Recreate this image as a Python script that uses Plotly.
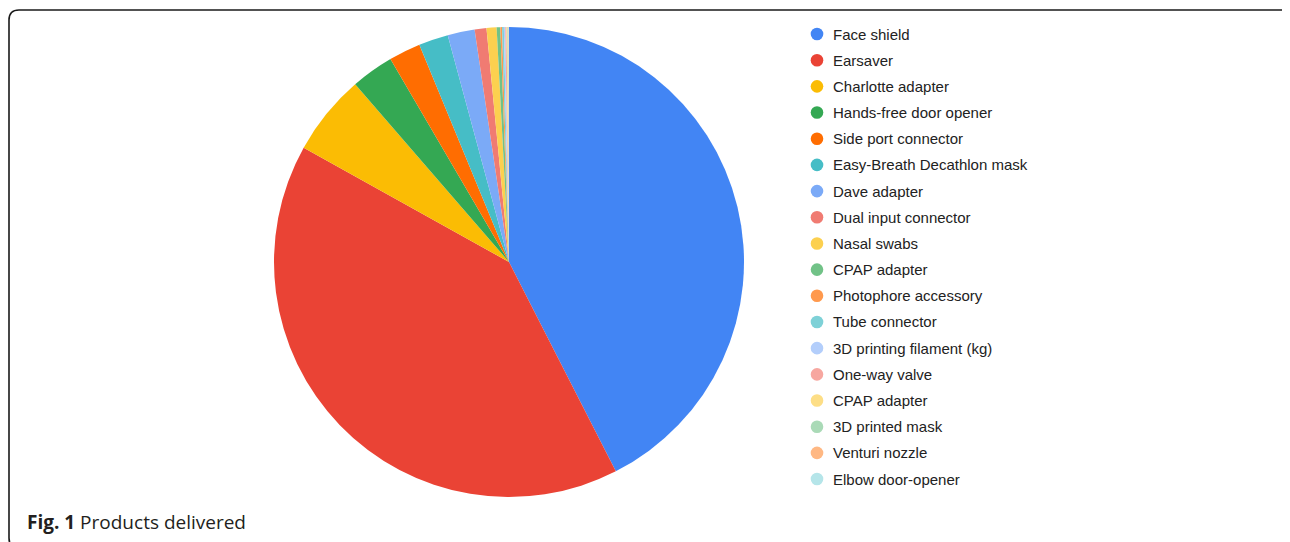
import plotly.graph_objects as go

W, H = 1290, 542
OFF = 8  # page body margin offset

labels = ["Face shield", "Earsaver", "Charlotte adapter", "Hands-free door opener",
          "Side port connector", "Easy-Breath Decathlon mask", "Dave adapter",
          "Dual input connector", "Nasal swabs", "CPAP adapter", "Photophore accessory",
          "Tube connector", "3D printing filament (kg)", "One-way valve", "CPAP adapter ",
          "3D printed mask", "Venturi nozzle", "Elbow door-opener"]
values = [4250, 4060, 556, 294, 219, 203, 186, 81, 69, 25, 12, 12, 10, 8, 6, 5, 4, 2]
colors = ["#4285F4", "#EA4335", "#FBBC04", "#34A853", "#FF6D01", "#46BDC6", "#7BAAF7",
          "#F07B72", "#FCD04F", "#71C287", "#FF994D", "#7ED1D7", "#B3CEFB", "#F7A7A0",
          "#FDDE86", "#AADAB7", "#FFB883", "#B5E5E9"]

def px(x):
    return (x - OFF) / W

def py(y):
    return 1 - (y - OFF) / H

fig = go.Figure()
fig.add_trace(go.Pie(
    labels=labels, values=values, sort=False, direction="clockwise", rotation=0,
    marker=dict(colors=colors, line=dict(color="white", width=0)),
    textinfo="none", hoverinfo="label+value+percent", showlegend=False,
    domain=dict(x=[px(274), px(744)], y=[py(497), py(27)]),
))

shapes = []
annotations = []
row0, step = 34.0, 26.18
for i, (lab, col) in enumerate(zip(labels, colors)):
    yc = row0 + i * step
    r = 6.3
    shapes.append(dict(type="circle", xref="paper", yref="paper",
                       x0=px(817 - r), x1=px(817 + r), y0=py(yc + r), y1=py(yc - r),
                       fillcolor=col, line=dict(width=0)))
    annotations.append(dict(text=lab.strip(), xref="paper", yref="paper",
                            x=px(831), y=py(yc), xanchor="left", yanchor="middle",
                            showarrow=False,
                            font=dict(family="Arial, Liberation Sans, sans-serif", size=15, color="#222222")))

# rounded border frame
x0, y0, x1, y1, rr = 9, 10, 1298, 548, 10
path = (f"M {px(x0)},{py(y1 - rr)} L {px(x0)},{py(y0 + rr)} "
        f"Q {px(x0)},{py(y0)} {px(x0 + rr)},{py(y0)} "
        f"L {px(x1 - rr)},{py(y0)} Q {px(x1)},{py(y0)} {px(x1)},{py(y0 + rr)} "
        f"L {px(x1)},{py(y1 - rr)} Q {px(x1)},{py(y1)} {px(x1 - rr)},{py(y1)} "
        f"L {px(x0 + rr)},{py(y1)} Q {px(x0)},{py(y1)} {px(x0)},{py(y1 - rr)} Z")
shapes.append(dict(type="path", xref="paper", yref="paper", path=path,
                   line=dict(color="#1a1a1a", width=1.6)))

annotations.append(dict(text="<b>Fig. 1</b> Products delivered", xref="paper", yref="paper",
                        x=px(25), y=py(522), xanchor="left", yanchor="middle", showarrow=False,
                        font=dict(family="Open Sans, Noto Sans, sans-serif", size=19, color="#231f20")))

fig.update_layout(width=W, height=H, margin=dict(l=0, r=0, t=0, b=0),
                  paper_bgcolor="white", plot_bgcolor="white",
                  shapes=shapes, annotations=annotations, showlegend=False)

fig.write_html("out.html")
